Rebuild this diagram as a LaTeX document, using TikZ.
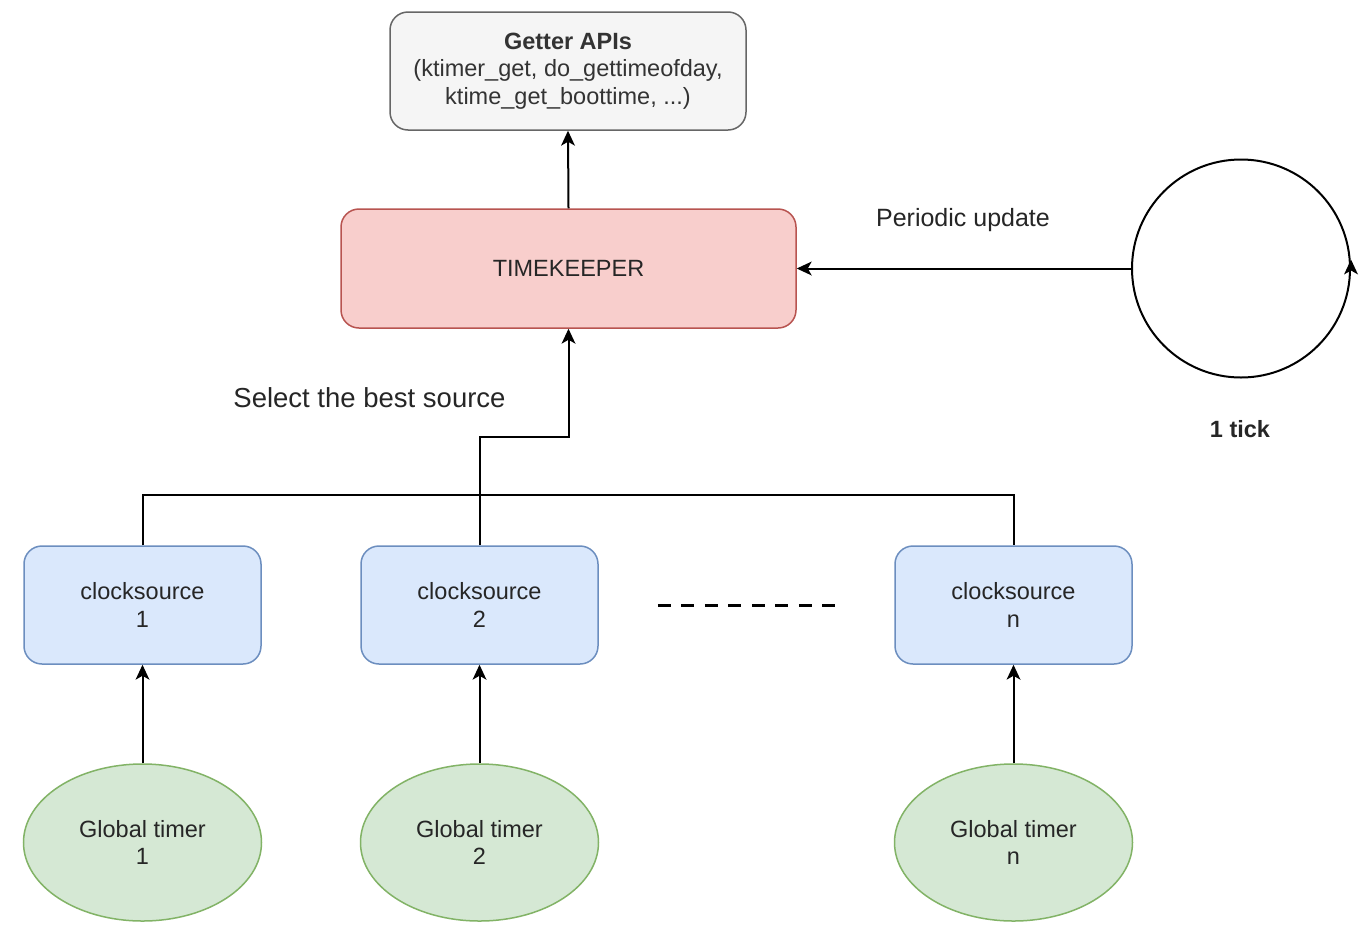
\documentclass[tikz,border=0pt]{standalone}
\usepackage{fontspec}
\setmainfont{Liberation Sans}
\usetikzlibrary{shapes.geometric}
\definecolor{grayfill}{HTML}{F5F5F5}
\definecolor{grayline}{HTML}{666666}
\definecolor{graytext}{HTML}{333333}
\definecolor{redfill}{HTML}{F8CECC}
\definecolor{redline}{HTML}{B85450}
\definecolor{bluefill}{HTML}{DAE8FC}
\definecolor{blueline}{HTML}{6C8EBF}
\definecolor{greenfill}{HTML}{D5E8D4}
\definecolor{greenline}{HTML}{82B366}
\tikzset{headpic/.pic={\fill[black] (0,0) -- (-15pt,7pt) -- (-11pt,0pt) -- (-15pt,-7pt) -- cycle;}}
\begin{document}
\begin{tikzpicture}[
  txt/.style={font=\fontsize{23.5}{27.5}\selectfont, align=center, text=black!85},
  roundbox/.style={txt, draw, line width=1.5pt, rounded corners=18pt, minimum width=#1, inner sep=0pt},
  csbox/.style={roundbox=237pt, minimum height=118pt, fill=bluefill, draw=blueline},
  gtimer/.style={txt, ellipse, draw=greenline, fill=greenfill, line width=1.5pt, minimum width=238pt, minimum height=157pt, inner sep=0pt},
  conn/.style={line width=2pt, draw=black},
  arr/.style={conn, shorten >=8pt}
]
\begin{scope}[x=1pt,y=-1pt]
\useasboundingbox (0,0) rectangle (1362,932);
\fill[white] (0,0) rectangle (1362,932);

\node[roundbox=356pt, minimum height=118pt, fill=grayfill, draw=grayline, text=graytext] (getter) at (568,71)
  {\textbf{Getter APIs}\\(ktimer\_get, do\_gettimeofday,\\ktime\_get\_boottime, ...)};
\node[roundbox=455pt, minimum height=119pt, fill=redfill, draw=redline] (tk) at (568.5,268.5) {TIMEKEEPER};

\node[csbox] (cs1) at (142.5,605) {clocksource\\1};
\node[csbox] (cs2) at (479.5,605) {clocksource\\2};
\node[csbox] (csn) at (1013.5,605) {clocksource\\n};

\node[gtimer] (g1) at (142.5,842.5) {Global timer\\1};
\node[gtimer] (g2) at (479.5,842.5) {Global timer\\2};
\node[gtimer] (gn) at (1013.5,842.5) {Global timer\\n};

\node[circle, draw, line width=2pt, minimum size=218pt, inner sep=0pt] (tick) at (1241,268.5) {};

\node[txt, font=\fontsize{25}{30}\selectfont] (pu) at (963,220) {Periodic update};
\node[txt, font=\fontsize{27.5}{32}\selectfont] (sel) at (369.5,398) {Select the best source};
\node[txt, font=\bfseries\fontsize{23.5}{27.5}\selectfont] (onetick) at (1240,429) {1 tick};

\coordinate (j1) at (479.5,437);
\coordinate (j2) at (568.5,437);
\end{scope}

% connectors
\draw[arr] (tk.north) -- (getter.south);
\pic[rotate=90] at (getter.south) {headpic};
\draw[arr] (tick.west) -- (tk.east);
\pic[rotate=180] at (tk.east) {headpic};
\draw[arr] (cs2.north) -- (j1) -- (j2) -- (tk.south);
\pic[rotate=90] at (tk.south) {headpic};
\draw[conn] (cs1.north) -- ++(0,50pt) -| (csn.north);
\draw[arr] (g1.north) -- (cs1.south);
\pic[rotate=90] at (cs1.south) {headpic};
\draw[arr] (g2.north) -- (cs2.south);
\pic[rotate=90] at (cs2.south) {headpic};
\draw[arr] (gn.north) -- (csn.south);
\pic[rotate=90] at (csn.south) {headpic};
\pic[rotate=90] at ([yshift=9pt]tick.east) {headpic};

\draw[line width=3pt, dash pattern=on 13pt off 10.5pt] ([xshift=59pt]cs2.east) -- ([xshift=-57pt]csn.west);
\end{tikzpicture}
\end{document}
